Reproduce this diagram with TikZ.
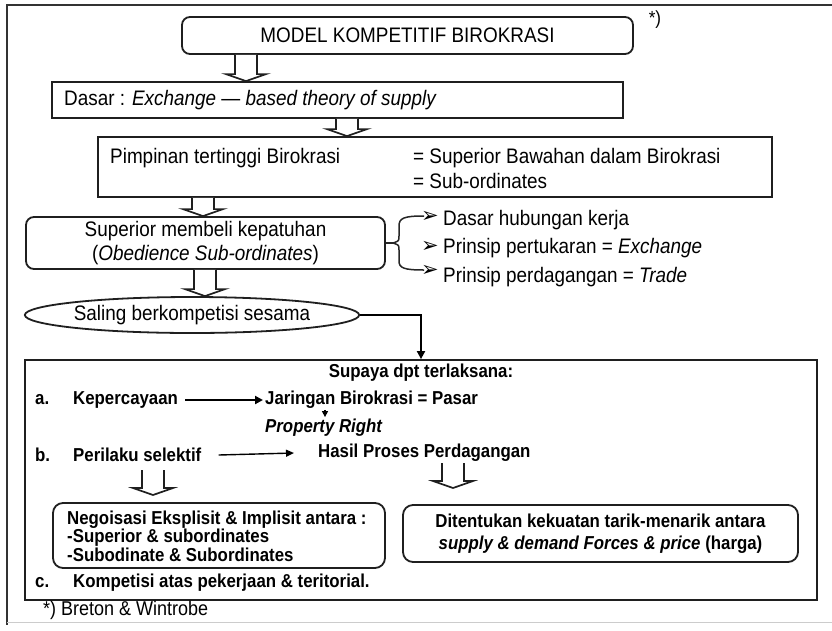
\documentclass[tikz,border=0pt]{standalone}
\usepackage{fontspec}
\setmainfont{Liberation Sans}[FakeStretch=0.9]
\newfontfamily\symfont{DejaVu Sans}
\usetikzlibrary{calc,shapes.geometric,arrows.meta}

% hollow block arrow pointing down: #1 = top of the stem, #2 = tip
\newcommand\hollowdown[2]{%
  \draw[hollow] let \p1=#1, \p2=#2 in
    (\x1-11pt,\y1) -- (\x1-11pt,\y2+7pt) -- (\x1-20pt,\y2+7pt) -- (\x1,\y2)
    -- (\x1+20pt,\y2+7pt) -- (\x1+11pt,\y2+7pt) -- (\x1+11pt,\y1);}

\tikzset{
  box/.style={draw=black!88, line width=1.8pt, inner sep=0pt},
  rbox/.style={box, rounded corners=8pt},
  txt/.style={inner sep=0pt, anchor=west, text=black,
    font=\fontsize{21}{24}\selectfont},
  btxt/.style={inner sep=0pt, anchor=west, text=black,
    font=\fontsize{18.7}{20}\selectfont\bfseries},
  hollow/.style={draw=black!88, line width=1.7pt, fill=white},
  conn/.style={draw=black, line width=1.8pt, -{Triangle[length=8pt,width=8pt]}},
  thinconn/.style={draw=black, line width=1.4pt, -{Triangle[length=8pt,width=7pt]}},
  bullet/.style={inner sep=0pt, font=\symfont\fontsize{21}{21}\selectfont, text=black},
}

\begin{document}
\begin{tikzpicture}[x=1pt, y=-1pt]
\useasboundingbox (0,0) rectangle (832,630);

% page frame
\draw[black!80, line width=1.8pt] (832,5) -- (7,5) -- (7,625);
\draw[black!20, line width=1pt] (7,622) -- (832,622);

% title
\node[rbox, minimum width=451, minimum height=37, text=black,
      font=\fontsize{21}{24}\selectfont] (title) at (407.5,35.5) {MODEL KOMPETITIF BIROKRASI};
\node[inner sep=0pt, font=\fontsize{19}{19}\selectfont] (star) at (655,20) {*)};

% basis
\node[box, minimum width=571, minimum height=36] (dasar) at (337.5,100) {};
\node[txt] (dasartxt) at (64,100) {Dasar : \textit{Exchange} — \textit{based theory of supply}};

% leadership
\node[box, minimum width=674, minimum height=60] (pim) at (435,167) {};
\node[txt] (pimtxt) at (110,158) {Pimpinan tertinggi Birokrasi};
\node[txt] (pimeq1) at (413,158) {= Superior Bawahan dalam Birokrasi};
\node[txt] (pimeq2) at (413,181) {= Sub-ordinates};

% superior
\node[rbox, minimum width=359, minimum height=52, align=center, text=black,
      font=\fontsize{21}{24}\selectfont] (sup) at (205.5,243)
      {Superior membeli kepatuhan\\(\textit{Obedience Sub-ordinates})};

% brace with the three principles
\draw[black!85, line width=1.5pt] (sup.east) -- (393,243);
\draw[black!85, line width=1.5pt]
  (424,216) .. controls (404,216) and (399,218) .. (399,226) -- (399,236)
  .. controls (399,241) .. (393,243) .. controls (399,245) .. (399,250)
  -- (399,261) .. controls (399,268) and (404,270) .. (424,270);
\node[bullet] (b1) at (430,217) {➢};
\node[bullet] (b2) at (430,247) {➢};
\node[bullet] (b3) at (430,271) {➢};
\node[txt] (p1) at (443,220) {Dasar hubungan kerja};
\node[txt] (p2) at (443,248) {Prinsip pertukaran = \textit{Exchange}};
\node[txt] (p3) at (443,277) {Prinsip perdagangan = \textit{Trade}};

% competition
\node[draw=black!88, line width=1.8pt, ellipse, inner sep=0pt,
      minimum width=334, minimum height=36, text=black,
      font=\fontsize{21}{24}\selectfont] (sal) at (192,315) {Saling berkompetisi sesama};

% block arrows in the upper chain
\hollowdown{(title.south -| 246,0)}{(dasar.north -| 246,0)}
\hollowdown{(dasar.south -| 347,0)}{(pim.north -| 347,0)}
\hollowdown{(pim.south -| 203,0)}{(sup.north -| 203,0)}
\hollowdown{(sup.south -| 205,0)}{(sal.north -| 205,0)}

% lower frame
\node[box, minimum width=792, minimum height=240] (big) at (421,480) {};
\draw[conn] (sal.east) -| (big.north);

\node[btxt, anchor=center] (supaya) at (421,373) {Supaya dpt terlaksana:};
\node[btxt] (la) at (35,400) {a.};
\node[btxt] (kep) at (73,400) {Kepercayaan};
\node[btxt] (jar) at (265,400) {Jaringan Birokrasi = Pasar};
\node[btxt, font=\fontsize{18.7}{20}\selectfont\bfseries\itshape] (prop) at (265,428) {Property Right};
\node[btxt] (lb) at (35,455) {b.};
\node[btxt] (per) at (73,455) {Perilaku selektif};
\node[btxt] (has) at (318,453) {Hasil Proses Perdagangan};
\node[btxt] (lc) at (35,583) {c.};
\node[btxt] (komp) at (73,583) {Kompetisi atas pekerjaan \& teritorial.};

\draw[conn, line width=2.4pt] ([xshift=7pt]kep.east) -- ([xshift=-2pt]jar.west);
\draw[thinconn] ([xshift=17pt]per.east) -- ([xshift=-24pt]has.west);
\draw[draw=black, line width=1.3pt, -{Triangle[length=6pt,width=6pt]}]
  ([xshift=60pt,yshift=-1pt]jar.south west) -- ([xshift=60pt,yshift=2pt]prop.north west);

\node[rbox, rounded corners=10pt, minimum width=332, minimum height=65] (nego) at (219,535.5) {};
\node[btxt, align=left, font=\fontsize{18.7}{16.5}\selectfont\bfseries] (negotxt) at (67,536)
  {Negoisasi Eksplisit \& Implisit antara :\\-Superior \& subordinates\\-Subodinate \& Subordinates};

\node[rbox, rounded corners=10pt, minimum width=395, minimum height=57, align=center, text=black,
      font=\fontsize{18.7}{22}\selectfont\bfseries] (dit) at (600.5,533.5)
  {Ditentukan kekuatan tarik-menarik antara\\\textit{supply \& demand Forces \& price} (harga)};

\coordinate (perTop) at (153,470);
\coordinate (perTip) at (153,495);
\coordinate (hasTop) at (453,463);
\coordinate (hasTip) at (453,488);
\hollowdown{(perTop)}{(perTip)}
\hollowdown{(hasTop)}{(hasTip)}

% reference note
\node[txt, font=\fontsize{20}{22}\selectfont] (note) at (43,610) {*) Breton \& Wintrobe};
\end{tikzpicture}
\end{document}
